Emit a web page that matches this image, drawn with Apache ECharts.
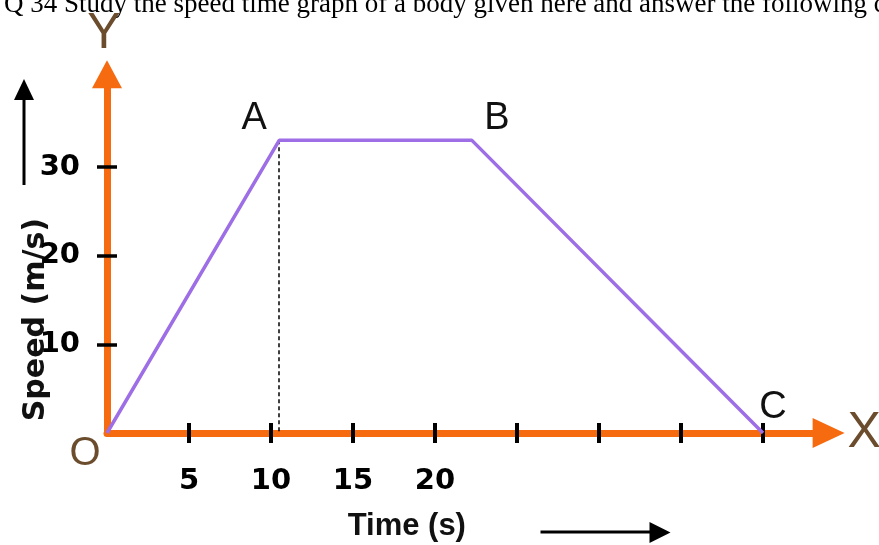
<!DOCTYPE html>
<html>
<head>
<meta charset="utf-8">
<style>
  html, body { margin: 0; padding: 0; background: #ffffff; }
  #chart { width: 879px; height: 545px; }
</style>
<script src="https://cdn.jsdelivr.net/npm/echarts@6/dist/echarts.min.js"></script>
</head>
<body>
<div id="chart"></div>
<script>
// Speed–time graph: O → A (accelerating), A → B (constant speed), B → C (decelerating)
const pointNames = ['O', 'A', 'B', 'C'];
const timeValues = [0, 10.5, 22.25, 40];   // seconds
const speedValues = [0, 33, 33, 0];        // m/s

// Axis ticks and the labelled subset
const timeTicks = [5, 10, 15, 20, 25, 30, 35, 40];
const timeTickLabels = [5, 10, 15, 20];
const speedTicks = [10, 20, 30];
const speedTickLabels = [10, 20, 30];

const questionText = 'Q 34 Study the speed time graph of a body given here and answer the following q';

const ORANGE = '#f66a10';
const PURPLE = '#9d6ee6';
const BROWN = '#6b4d2e';
const DIGIT_FONT = '"DejaVu Sans", sans-serif';

const chart = echarts.init(document.getElementById('chart'), null, { renderer: 'canvas' });

const labelOffsets = [[-22, 21], [-25, -22], [25, -22], [10, -25]];
const seriesData = timeValues.map((t, i) => ({
  value: [t, speedValues[i]],
  name: pointNames[i],
  label: {
    show: true,
    position: 'inside',
    offset: labelOffsets[i],
    formatter: '{b}',
    fontFamily: '"Liberation Sans", Arial, sans-serif',
    fontSize: i === 0 ? 40 : 38,
    fontWeight: 'normal',
    color: i === 0 ? BROWN : '#111111'
  }
}));

const option = {
  animation: false,
  backgroundColor: '#ffffff',
  grid: {
    left: 107, right: 50.4, top: 78.3, bottom: 112,
    containLabel: false,
    outerBoundsMode: 'none'
  },
  xAxis: [
    {
      type: 'value', min: 0, max: 44, position: 'bottom',
      axisLine: {
        show: true, onZero: false,
        symbol: ['none', 'triangle'], symbolSize: [30, 32], symbolOffset: [0, 0],
        lineStyle: { color: ORANGE, width: 7 }
      },
      axisTick: {
        show: true, inside: false, length: 10, customValues: timeTicks,
        lineStyle: { color: '#000', width: 4 }
      },
      axisLabel: {
        show: true, customValues: timeTickLabels, margin: 34,
        fontFamily: DIGIT_FONT, fontWeight: 'bold', fontSize: 29, color: '#000'
      },
      splitLine: { show: false },
      name: 'X', nameLocation: 'end', nameGap: 19,
      nameTextStyle: {
        fontFamily: '"Liberation Sans", Arial, sans-serif', fontSize: 50,
        color: BROWN, verticalAlign: 'middle', padding: [4, 0, 0, 0]
      }
    },
    {
      type: 'value', min: 0, max: 44, position: 'bottom',
      axisLine: { show: false, onZero: false },
      axisTick: {
        show: true, inside: true, length: 10, customValues: timeTicks,
        lineStyle: { color: '#000', width: 4 }
      },
      axisLabel: { show: false },
      splitLine: { show: false },
      name: 'Time (s)', nameLocation: 'middle', nameGap: 78,
      nameTextStyle: {
        fontFamily: '"Liberation Sans", Arial, sans-serif', fontWeight: 'bold',
        fontSize: 31, color: '#111', padding: [0, 122, 0, 0]
      }
    }
  ],
  yAxis: [
    {
      type: 'value', min: 0, max: 40, position: 'left',
      axisLine: {
        show: true, onZero: false,
        symbol: ['none', 'triangle'], symbolSize: [30, 28], symbolOffset: [0, 4],
        lineStyle: { color: ORANGE, width: 7 }
      },
      axisTick: {
        show: true, inside: false, length: 10, customValues: speedTicks,
        lineStyle: { color: '#000', width: 3.5 }
      },
      axisLabel: {
        show: true, customValues: speedTickLabels, margin: 27,
        fontFamily: DIGIT_FONT, fontWeight: 'bold', fontSize: 29, color: '#000'
      },
      splitLine: { show: false },
      name: 'Y', nameLocation: 'end', nameGap: 19,
      nameTextStyle: {
        fontFamily: '"Liberation Sans", Arial, sans-serif', fontSize: 50,
        color: BROWN, align: 'center', padding: [0, 6, 0, 0]
      }
    },
    {
      type: 'value', min: 0, max: 40, position: 'left',
      axisLine: { show: false, onZero: false },
      axisTick: {
        show: true, inside: true, length: 10, customValues: speedTicks,
        lineStyle: { color: '#000', width: 3.5 }
      },
      axisLabel: { show: false },
      splitLine: { show: false },
      name: 'Speed (m/s)', nameLocation: 'middle', nameGap: 56,
      nameTextStyle: {
        fontFamily: DIGIT_FONT, fontWeight: 'bold', fontSize: 30,
        color: '#111', padding: [0, 128, 0, 0]
      }
    }
  ],
  series: [
    {
      type: 'line',
      xAxisIndex: 0, yAxisIndex: 0,
      data: seriesData,
      symbol: 'circle', symbolSize: 1,
      itemStyle: { color: 'rgba(0,0,0,0)' },
      lineStyle: { color: PURPLE, width: 3.5 },
      z: 5,
      markLine: {
        silent: true,
        symbol: ['none', 'none'],
        label: { show: false },
        lineStyle: { color: '#000', width: 1.5, type: [4, 3] },
        data: [[
          { coord: [timeValues[1], speedValues[1]] },
          { coord: [timeValues[1], 0] }
        ]]
      }
    }
  ],
  graphic: [
    {
      type: 'text', left: 4, top: -9,
      style: {
        text: questionText,
        font: '27px "Liberation Serif", "Times New Roman", serif',
        fill: '#000'
      }
    },
    // upward arrow beside the speed label
    {
      type: 'group', left: 14, top: 79,
      children: [
        { type: 'line', shape: { x1: 10, y1: 106, x2: 10, y2: 16 }, style: { stroke: '#000', lineWidth: 3 } },
        { type: 'polygon', shape: { points: [[0, 21], [20, 21], [10, 0]] }, style: { fill: '#000' } }
      ]
    },
    // rightward arrow beside the time label
    {
      type: 'group', left: 538, top: 522,
      children: [
        { type: 'line', shape: { x1: 0, y1: 10, x2: 112, y2: 10 }, style: { stroke: '#000', lineWidth: 3 } },
        { type: 'polygon', shape: { points: [[109, 0], [109, 21], [130, 10.5]] }, style: { fill: '#000' } }
      ]
    }
  ]
};

chart.setOption(option);
</script>
</body>
</html>
